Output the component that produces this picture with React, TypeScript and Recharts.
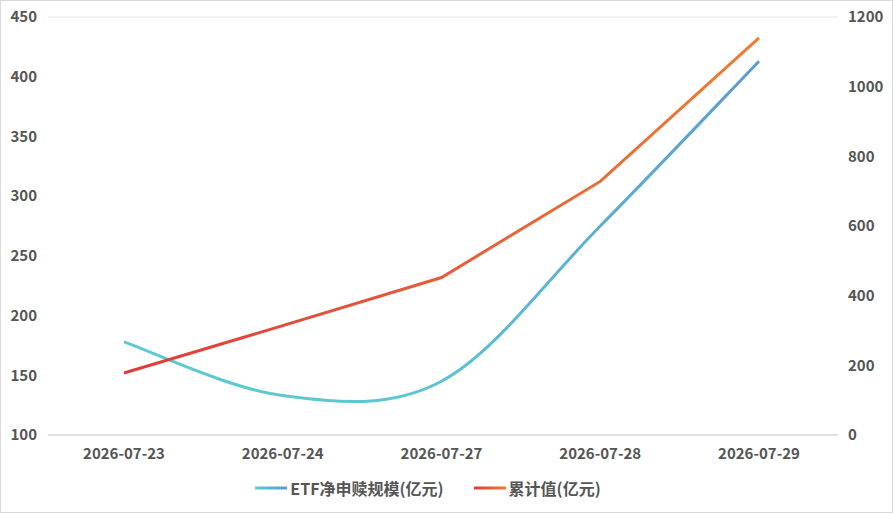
import React from "react";
import {
  LineChart,
  Line,
  XAxis,
  YAxis,
  CartesianGrid,
  Legend,
} from "recharts";

const dates = ["2026-07-23", "2026-07-24", "2026-07-27", "2026-07-28", "2026-07-29"];
const etfNet = [178, 133, 145, 275, 413];
const cumulative = [178, 314, 452, 728, 1140];
const leftTicks = [100, 150, 200, 250, 300, 350, 400, 450];
const rightTicks = [0, 200, 400, 600, 800, 1000, 1200];

const data = dates.map((d, i) => ({
  date: d,
  etf: etfNet[i],
  cum: cumulative[i],
}));

const font = '"Noto Sans CJK SC", "Noto Sans", sans-serif';
const tickStyle = { fill: "#555", fontSize: 15, fontWeight: 700, fontFamily: font };

// catmull-rom style smoothing (spreadsheet "smoothed line")
function smoothCurve(context: any) {
  let pts: [number, number][] = [];
  return {
    areaStart() {},
    areaEnd() {},
    lineStart() {
      pts = [];
    },
    lineEnd() {
      const n = pts.length;
      if (!n) return;
      const cps = pts.map((p, i) => {
        const prev = pts[Math.max(i - 1, 0)];
        const next = pts[Math.min(i + 1, n - 1)];
        const vx = (next[0] - prev[0]) / 6;
        const vy = (next[1] - prev[1]) / 6;
        return { inX: p[0] - vx, inY: p[1] - vy, outX: p[0] + vx, outY: p[1] + vy };
      });
      context.moveTo(pts[0][0], pts[0][1]);
      for (let i = 1; i < n; i++) {
        context.bezierCurveTo(
          cps[i - 1].outX,
          cps[i - 1].outY,
          cps[i].inX,
          cps[i].inY,
          pts[i][0],
          pts[i][1]
        );
      }
    },
    point(x: number, y: number) {
      pts.push([+x, +y]);
    },
  };
}

function LegendContent() {
  const items = [
    { label: "ETF净申赎规模(亿元)", id: "legEtf", c0: "#5ccbcf", c1: "#5b9bd5" },
    { label: "累计值(亿元)", id: "legCum", c0: "#e03a3a", c1: "#ed7d31" },
  ];
  return (
    <div
      style={{
        display: "flex",
        justifyContent: "center",
        alignItems: "center",
        height: 40,
        gap: 30,
        paddingRight: 37,
        fontFamily: font,
        fontSize: 16,
        fontWeight: 700,
        color: "#555",
      }}
    >
      {items.map((it) => (
        <div key={it.label} style={{ display: "flex", alignItems: "center" }}>
          <svg width={32} height={10} style={{ marginRight: 3 }}>
            <defs>
              <linearGradient id={it.id} x1="0" y1="0" x2="32" y2="0" gradientUnits="userSpaceOnUse">
                <stop offset="0" stopColor={it.c0} />
                <stop offset="1" stopColor={it.c1} />
              </linearGradient>
            </defs>
            <line x1={0} y1={5} x2={32} y2={5} stroke={`url(#${it.id})`} strokeWidth={3} />
          </svg>
          <span>{it.label}</span>
        </div>
      ))}
    </div>
  );
}

export default function App() {
  return (
    <div
      style={{
        position: "fixed",
        left: 0,
        top: 0,
        width: 893,
        height: 513,
        border: "1px solid #d9d9d9",
        boxSizing: "border-box",
        background: "#fff",
      }}
    >
      <LineChart
        width={891}
        height={511}
        data={data}
        margin={{ top: 16, right: 0, bottom: 4, left: 0 }}
      >
        <defs>
          <linearGradient id="gradEtf" x1="0" y1="0" x2="1" y2="0">
            <stop offset="0" stopColor="#5ccbcf" />
            <stop offset="0.45" stopColor="#5cc6d2" />
            <stop offset="1" stopColor="#5b9bd5" />
          </linearGradient>
          <linearGradient id="gradCum" x1="0" y1="0" x2="1" y2="0">
            <stop offset="0" stopColor="#e03a3a" />
            <stop offset="0.4" stopColor="#e5553a" />
            <stop offset="1" stopColor="#ed7d31" />
          </linearGradient>
        </defs>
        <CartesianGrid vertical={false} stroke="#e6e6e6" />
        <XAxis
          dataKey="date"
          padding={{ left: 76, right: 79 }}
          tickLine={false}
          axisLine={{ stroke: "#d0d0d0" }}
          tick={tickStyle}
          tickMargin={7}
          height={33}
        />
        <YAxis
          yAxisId="left"
          domain={[100, 450]}
          ticks={leftTicks}
          axisLine={false}
          tickLine={false}
          tick={tickStyle}
          width={47}
          tickMargin={5}
        />
        <YAxis
          yAxisId="right"
          orientation="right"
          domain={[0, 1200]}
          ticks={rightTicks}
          axisLine={false}
          tickLine={false}
          tick={tickStyle}
          width={54}
          tickMargin={4}
        />
        <Legend verticalAlign="bottom" height={40} content={<LegendContent />} />
        <Line
          yAxisId="left"
          type={smoothCurve as any}
          dataKey="etf"
          stroke="url(#gradEtf)"
          strokeWidth={3}
          dot={false}
          isAnimationActive={false}
        />
        <Line
          yAxisId="right"
          type="linear"
          dataKey="cum"
          stroke="url(#gradCum)"
          strokeWidth={3}
          dot={false}
          isAnimationActive={false}
        />
      </LineChart>
    </div>
  );
}
